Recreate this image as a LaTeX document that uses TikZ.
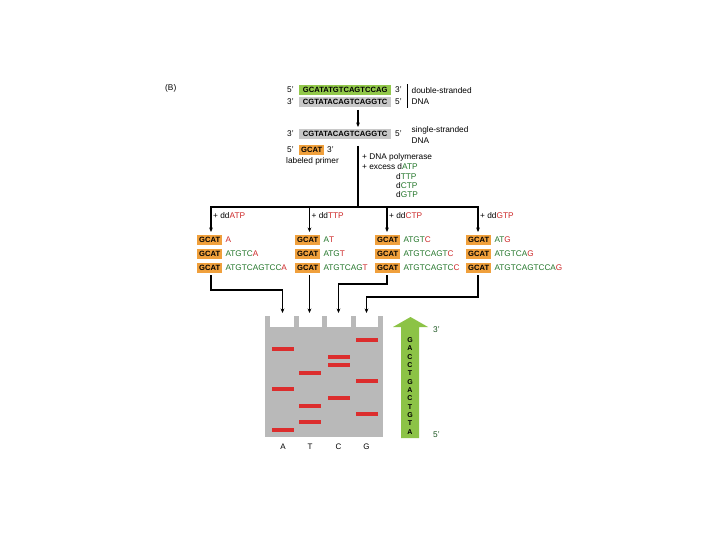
\documentclass[tikz,border=0pt]{standalone}
\usepackage{fontspec}
\setmainfont{Liberation Sans}
\usetikzlibrary{arrows.meta}
\definecolor{boxgreen}{RGB}{146,200,74}
\definecolor{boxgrey}{RGB}{200,200,200}
\definecolor{boxorange}{RGB}{240,160,60}
\definecolor{seqgreen}{RGB}{35,118,42}
\definecolor{seqred}{RGB}{205,40,40}
\definecolor{gelgrey}{RGB}{185,185,185}
\definecolor{bandred}{RGB}{220,45,45}
\definecolor{arrowgreen}{RGB}{140,195,70}
\newcommand\sq[2]{\textcolor{seqgreen}{#1}\textcolor{seqred}{#2}}
\newcommand\dd[1]{+ dd\textcolor{seqred}{#1}}
\begin{document}
\begin{tikzpicture}[x=1pt,y=-1pt,
  lbl/.style={font=\fontsize{8.3}{9}\selectfont, inner sep=0pt, anchor=west},
  seqtxt/.style={font=\fontsize{8.2}{9}\selectfont, inner sep=0pt, anchor=west},
  seqbox/.style={font=\fontsize{7.6}{8}\selectfont\bfseries, inner xsep=2pt, inner ysep=0pt,
     minimum height=10.5pt, text height=5.7pt, text depth=0pt, anchor=west},
  primer/.style={seqbox, fill=boxorange, minimum width=25pt},
  conn/.style={line width=1.1pt},
  arr/.style={conn, -{Stealth[length=4.5pt,width=3.8pt]}},
  lane/.style={font=\fontsize{8}{9}\selectfont, inner sep=0pt},
  arrletter/.style={font=\fontsize{7}{7}\selectfont\bfseries, inner sep=0pt}
]
\useasboundingbox (0,0) rectangle (720,540);
\fill[white] (0,0) rectangle (720,540);

\node[lbl, font=\fontsize{8.3}{9}\selectfont] (B) at (165,88) {(B)};

% double-stranded DNA
\node[lbl] (d5a) at (287,90) {5'};
\node[seqbox, fill=boxgreen, minimum width=92pt] (ds1) at (299,90) {GCATATGTCAGTCCAG};
\node[lbl] (d3a) at (395,90) {3'};
\node[lbl] (d3b) at (287,102) {3'};
\node[seqbox, fill=boxgrey, minimum width=92pt] (ds2) at (299,102) {CGTATACAGTCAGGTC};
\node[lbl] (d5b) at (395,102) {5'};
\coordinate (brt) at (407.5,84.5);
\coordinate (brb) at (407.5,108);
\draw[conn] (brt) -- (brb);
\node[lbl] (dslab1) at (411.5,91) {double-stranded};
\node[lbl] (dslab2) at (411.5,102) {DNA};

\coordinate (a1s) at (358,110);
\coordinate (a1e) at (358,127);
\draw[arr] (a1s) -- (a1e);

% single-stranded DNA
\node[lbl] (s3) at (287,134) {3'};
\node[seqbox, fill=boxgrey, minimum width=92pt] (ss) at (299,134) {CGTATACAGTCAGGTC};
\node[lbl] (s5) at (395,134) {5'};
\node[lbl] (sslab1) at (411.5,130) {single-stranded};
\node[lbl] (sslab2) at (411.5,141) {DNA};

% primer
\node[lbl] (p5) at (287,150) {5'};
\node[primer] (pr) at (299,150) {GCAT};
\node[lbl] (p3) at (327,150) {3'};
\node[lbl] (prlab) at (286,161) {labeled primer};

% reagents
\coordinate (vtop) at (358,146);
\coordinate (junc) at (358,207);
\draw[conn] (vtop) -- (junc);
\node[lbl] (r1) at (362,157) {+ DNA polymerase};
\node[lbl] (r2) at (362,167) {+ excess d\textcolor{seqgreen}{ATP}};
\node[lbl] (r3) at (396,176.5) {d\textcolor{seqgreen}{TTP}};
\node[lbl] (r4) at (396,185.5) {d\textcolor{seqgreen}{CTP}};
\node[lbl] (r5) at (396,194.5) {d\textcolor{seqgreen}{GTP}};

% branch bar
\coordinate (bA) at (211,207);
\coordinate (bT) at (309.5,207);
\coordinate (bC) at (387,207);
\coordinate (bG) at (478,207);
\draw[conn] ([xshift=-0.55pt]bA) -- ([xshift=0.55pt]bG);
\coordinate (tA) at (211,232);
\coordinate (tT) at (309.5,232);
\coordinate (tC) at (387,232);
\coordinate (tG) at (478,232);
\draw[arr] (bA) -- (tA);
\draw[arr] (bT) -- (tT);
\draw[arr] (bC) -- (tC);
\draw[arr] (bG) -- (tG);
\node[lbl] (lA) at (213,216) {\dd{ATP}};
\node[lbl] (lT) at (311.5,216) {\dd{TTP}};
\node[lbl] (lC) at (389,216) {\dd{CTP}};
\node[lbl] (lG) at (480,216) {\dd{GTP}};

% column A
\node[primer] (A1) at (197,240) {GCAT};
\node[seqtxt] (A1s) at ([xshift=3pt]A1.east) {\sq{}{A}};
\node[primer] (A2) at (197,254) {GCAT};
\node[seqtxt] (A2s) at ([xshift=3pt]A2.east) {\sq{ATGTC}{A}};
\node[primer] (A3) at (197,268) {GCAT};
\node[seqtxt] (A3s) at ([xshift=3pt]A3.east) {\sq{ATGTCAGTCC}{A}};
% column T
\node[primer] (T1) at (295,240) {GCAT};
\node[seqtxt] (T1s) at ([xshift=3pt]T1.east) {\sq{A}{T}};
\node[primer] (T2) at (295,254) {GCAT};
\node[seqtxt] (T2s) at ([xshift=3pt]T2.east) {\sq{ATG}{T}};
\node[primer] (T3) at (295,268) {GCAT};
\node[seqtxt] (T3s) at ([xshift=3pt]T3.east) {\sq{ATGTCAG}{T}};
% column C
\node[primer] (C1) at (375,240) {GCAT};
\node[seqtxt] (C1s) at ([xshift=3pt]C1.east) {\sq{ATGT}{C}};
\node[primer] (C2) at (375,254) {GCAT};
\node[seqtxt] (C2s) at ([xshift=3pt]C2.east) {\sq{ATGTCAGT}{C}};
\node[primer] (C3) at (375,268) {GCAT};
\node[seqtxt] (C3s) at ([xshift=3pt]C3.east) {\sq{ATGTCAGTC}{C}};
% column G
\node[primer] (G1) at (466,240) {GCAT};
\node[seqtxt] (G1s) at ([xshift=3pt]G1.east) {\sq{AT}{G}};
\node[primer] (G2) at (466,254) {GCAT};
\node[seqtxt] (G2s) at ([xshift=3pt]G2.east) {\sq{ATGTCA}{G}};
\node[primer] (G3) at (466,268) {GCAT};
\node[seqtxt] (G3s) at ([xshift=3pt]G3.east) {\sq{ATGTCAGTCCA}{G}};

% gel
\fill[gelgrey] (265,327) rectangle (383,437);
\foreach \px in {265,293.5,322,350.5,378} {
  \fill[gelgrey] (\px,316) rectangle (\px+5,327);
}
\coordinate (wA) at (282.5,313);
\coordinate (wT) at (309.5,313);
\coordinate (wC) at (338.5,313);
\coordinate (wG) at (366.5,313);

% connectors to gel
\coordinate (sA) at (211,275);
\coordinate (sT) at (309.5,275);
\coordinate (sC) at (387,275);
\coordinate (sG) at (478,275);
\draw[arr] (sA) |- (282.5,290) -- (wA);
\draw[arr] (sT) -- (wT);
\draw[arr] (sC) |- (338.5,284) -- (wC);
\draw[arr] (sG) |- (366.5,297) -- (wG);

% bands
\foreach \bx/\by in {282.5/349, 282.5/389, 282.5/430,
                     310/373, 310/406, 310/422,
                     338.5/357, 338.5/365, 338.5/398,
                     366.5/340, 366.5/381, 366.5/414} {
  \fill[bandred] (\bx-11,\by-2) rectangle (\bx+11,\by+2);
}
\node[lane] (LA) at (283,447) {A};
\node[lane] (LT) at (310,447) {T};
\node[lane] (LC) at (338.5,447) {C};
\node[lane] (LG) at (366.5,447) {G};

% green reading arrow
\fill[arrowgreen] (401,438) -- (401,327) -- (393,327) -- (410.5,317) -- (428,327)
   -- (419,327) -- (419,438) -- cycle;
\foreach \l [count=\i from 0] in {G,A,C,C,T,G,A,C,T,G,T,A} {
  \node[arrletter] at (410,340+8.35*\i) {\l};
}
\node[lbl, text=seqgreen!70!black] (g3) at (433,330) {3'};
\node[lbl, text=seqgreen!70!black] (g5) at (433,435) {5'};
\end{tikzpicture}
\end{document}
